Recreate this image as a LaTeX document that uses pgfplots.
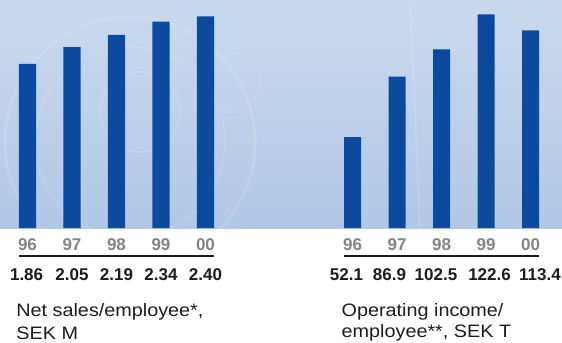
\documentclass[border=0pt]{standalone}
\usepackage{pgfplots}
\pgfplotsset{compat=1.18}
\usepackage{fontspec}
\setmainfont{Liberation Sans}
\newfontfamily\titlefont[FakeStretch=1.1]{Liberation Sans}
\definecolor{barblue}{RGB}{12,74,160}
\definecolor{bgtop}{RGB}{202,217,238}
\definecolor{bgbot}{RGB}{178,200,231}
\definecolor{yeargray}{RGB}{132,132,132}
\definecolor{txt}{RGB}{28,28,28}
\newcommand\yearfont{\fontsize{17bp}{19bp}\selectfont\bfseries\color{yeargray}}
\newcommand\valfont{\fontsize{17bp}{20bp}\selectfont\bfseries\color{txt}}
\newcommand\tfont{\titlefont\fontsize{18bp}{21bp}\selectfont\color{txt}}
\begin{document}
\begin{tikzpicture}[x=1bp,y=1bp]
\useasboundingbox (0,0) rectangle (562,342);
\shade[top color=bgtop,bottom color=bgbot] (0,114) rectangle (562,342);
\begin{scope}
\clip (0,114) rectangle (562,342);
\draw[white,opacity=0.12,line width=3bp] (130,200) circle (125);
\draw[white,opacity=0.10,line width=2bp] (130,200) circle (95);
\draw[white,opacity=0.10,line width=2bp] (140,230) circle (40);
\draw[white,opacity=0.08,line width=2bp] (230,260) circle (30);
\draw[white,opacity=0.12,line width=2bp] (410,342) -- (420,114);
\end{scope}
% Left chart
\begin{axis}[at={(5.25bp,114bp)}, anchor=south west, scale only axis,
  width=222.5bp, height=228bp, xmin=-0.5, xmax=4.5, ymin=0, ymax=2.585,
  hide axis, clip=false, ybar, bar width=17bp]
\addplot[fill=barblue, draw=none] coordinates {(0,1.86) (1,2.05) (2,2.19) (3,2.34) (4,2.40)};
\node[anchor=base] at ([yshift=-22bp]axis cs:0,0) {\yearfont 96};
\node[anchor=base] at ([yshift=-22bp]axis cs:1,0) {\yearfont 97};
\node[anchor=base] at ([yshift=-22bp]axis cs:2,0) {\yearfont 98};
\node[anchor=base] at ([yshift=-22bp]axis cs:3,0) {\yearfont 99};
\node[anchor=base] at ([yshift=-22bp]axis cs:4,0) {\yearfont 00};
\draw[txt, line width=2.3bp] ([yshift=-28bp]axis cs:-0.191,0) -- ([yshift=-28bp]axis cs:4.191,0);
\node[anchor=base] at ([yshift=-52bp]axis cs:-0.02,0) {\valfont 1.86};
\node[anchor=base] at ([yshift=-52bp]axis cs:1,0) {\valfont 2.05};
\node[anchor=base] at ([yshift=-52bp]axis cs:2,0) {\valfont 2.19};
\node[anchor=base] at ([yshift=-52bp]axis cs:3,0) {\valfont 2.34};
\node[anchor=base] at ([yshift=-52bp]axis cs:4,0) {\valfont 2.40};
\end{axis}
% Right chart
\begin{axis}[at={(330.25bp,114bp)}, anchor=south west, scale only axis,
  width=222.5bp, height=228bp, xmin=-0.5, xmax=4.5, ymin=0, ymax=130.8,
  hide axis, clip=false, ybar, bar width=17bp]
\addplot[fill=barblue, draw=none] coordinates {(0,52.1) (1,86.9) (2,102.5) (3,122.6) (4,113.4)};
\node[anchor=base] at ([yshift=-22bp]axis cs:0,0) {\yearfont 96};
\node[anchor=base] at ([yshift=-22bp]axis cs:1,0) {\yearfont 97};
\node[anchor=base] at ([yshift=-22bp]axis cs:2,0) {\yearfont 98};
\node[anchor=base] at ([yshift=-22bp]axis cs:3,0) {\yearfont 99};
\node[anchor=base] at ([yshift=-22bp]axis cs:4,0) {\yearfont 00};
\draw[txt, line width=2.3bp] ([yshift=-28bp]axis cs:-0.191,0) -- ([yshift=-28bp]axis cs:4.191,0);
\node[anchor=base] at ([yshift=-52bp]axis cs:-0.135,0) {\valfont 52.1};
\node[anchor=base] at ([yshift=-52bp]axis cs:0.831,0) {\valfont 86.9};
\node[anchor=base] at ([yshift=-52bp]axis cs:1.876,0) {\valfont 102.5};
\node[anchor=base] at ([yshift=-52bp]axis cs:3.079,0) {\valfont 122.6};
\node[anchor=base] at ([yshift=-52bp]axis cs:4.213,0) {\valfont 113.4};
\end{axis}
% Titles
\node[anchor=base west, inner sep=0pt] at (16.2,25.7) {\tfont Net sales/employee*,};
\node[anchor=base west, inner sep=0pt] at (16.2,2.5) {\tfont SEK M};
\node[anchor=base west, inner sep=0pt] at (341.5,25.7) {\tfont Operating income/};
\node[anchor=base west, inner sep=0pt] at (341.5,4.7) {\tfont employee**, SEK T};
\end{tikzpicture}
\end{document}
